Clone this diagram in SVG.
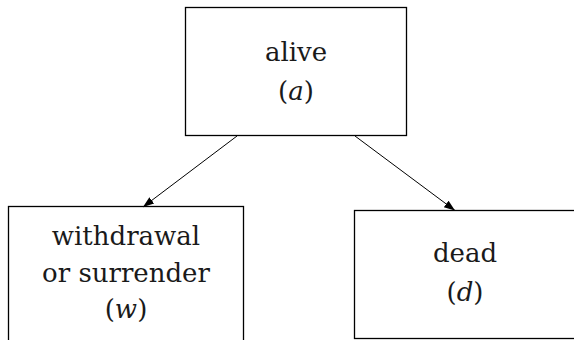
<svg xmlns="http://www.w3.org/2000/svg" width="574" height="340" viewBox="0 0 574 340">
<style>
.box{fill:#fff;stroke:#000;stroke-width:1.3}
text{font-family:"DejaVu Serif",serif;font-size:26px;fill:#1a1a1a;text-anchor:middle}
.i{font-style:italic}
.edge{stroke:#000;stroke-width:1;fill:none}
</style>
<defs>
<marker id="arr" viewBox="0 0 11 11" refX="11" refY="5.5" markerWidth="11" markerHeight="11" markerUnits="userSpaceOnUse" orient="auto">
<path d="M0,1.5 L11,5.5 L0,9.5 Z" fill="#000"/>
</marker>
</defs>
<rect width="574" height="340" fill="#fff"/>
<g id="alive">
<rect class="box" x="185.5" y="7.5" width="221" height="128"/>
<text x="296" y="61">alive</text>
<text x="296" y="100">(<tspan class="i">a</tspan>)</text>
</g>
<g id="withdrawal">
<rect class="box" x="8.5" y="206.5" width="235" height="140"/>
<text x="126" y="245">withdrawal</text>
<text x="126" y="282">or surrender</text>
<text x="126" y="318">(<tspan class="i">w</tspan>)</text>
</g>
<g id="dead">
<rect class="box" x="354.5" y="210.5" width="230" height="128"/>
<text x="465" y="262">dead</text>
<text x="465" y="301">(<tspan class="i">d</tspan>)</text>
</g>
<g id="connectors">
<line class="edge" x1="237" y1="136" x2="143" y2="207" marker-end="url(#arr)"/>
<line class="edge" x1="355" y1="136" x2="455" y2="210.5" marker-end="url(#arr)"/>
</g>
</svg>
